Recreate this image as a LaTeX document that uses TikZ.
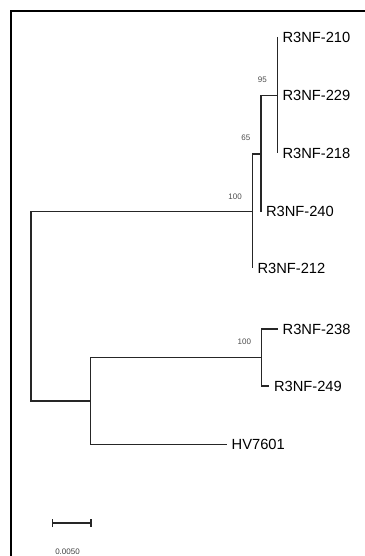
\documentclass[tikz,border=0pt]{standalone}
\usepackage{fontspec}
\setmainfont{Liberation Sans}
\usepackage{tikz}
\usetikzlibrary{positioning, arrows.meta}

\begin{document}
\begin{tikzpicture}[x=1pt, y=-1pt,
  branch/.style={line width=1.3pt, black!85},
  leaf/.style={inner sep=0pt, font=\fontsize{14.7}{16}\selectfont},
  boot/.style={inner sep=0pt, anchor=east, text=black!70, font=\fontsize{8}{9}\selectfont}]
\useasboundingbox (0,0) rectangle (364,556);
% Frame (only top and left edges in view)
\draw[line width=2.3pt, line cap=rect] (364,11) -- (11,11) -- (11,556);
% Tips
\coordinate (T210) at (277.5,37);
\coordinate (T229) at (277.5,95.7);
\coordinate (T218) at (277.5,153.5);
\coordinate (T240) at (261,211.5);
\coordinate (T212) at (252.5,268);
\coordinate (T238) at (277.7,329);
\coordinate (T249) at (269,386);
\coordinate (THV) at (226.7,444.3);
% Internal nodes
\coordinate (N95) at (277.5,95.7);
\coordinate (N65) at (261,154);
\coordinate (N100a) at (252.5,211.5);
\coordinate (N100b) at (261.7,357.5);
\coordinate (NLow) at (90.7,401);
\coordinate (Root) at (31,306.5);
% Branches
\draw[branch] (T210) -- (T218);
\draw[branch] (N95) -| (N65) |- (T240);
\draw[branch] (N65) -| (N100a) |- (T212);
\draw[branch] (N100a) -| (Root) |- (NLow);
\draw[branch] (N100b) -| (NLow) |- (THV);
\draw[branch] (T238) -| (N100b) |- (T249);
% Tip labels
\foreach \t/\lab in {T210/R3NF-210, T229/R3NF-229, T218/R3NF-218, T240/R3NF-240,
                     T212/R3NF-212, T238/R3NF-238, T249/R3NF-249, THV/HV7601} {
  \node[leaf, right=4.8pt of \t] (L\t) {\lab};
}
% Bootstrap values
\node[boot] (B95) at ([shift={(-10.5,-16)}]N95) {95};
\node[boot] (B65) at ([shift={(-10.5,-16)}]N65) {65};
\node[boot] (B100a) at ([shift={(-10.5,-15)}]N100a) {100};
\node[boot] (B100b) at ([shift={(-10.5,-16)}]N100b) {100};
% Scale bar
\coordinate (SB1) at (51.7,523);
\coordinate (SB2) at (91.7,523);
\draw[branch, {Bar[width=8pt]}-{Bar[width=8pt]}] (SB1) -- (SB2);
\node[inner sep=0pt, text=black!75, font=\fontsize{8}{9}\selectfont] (SBL) at (67.5,551.5) {0.0050};
\end{tikzpicture}
\end{document}
